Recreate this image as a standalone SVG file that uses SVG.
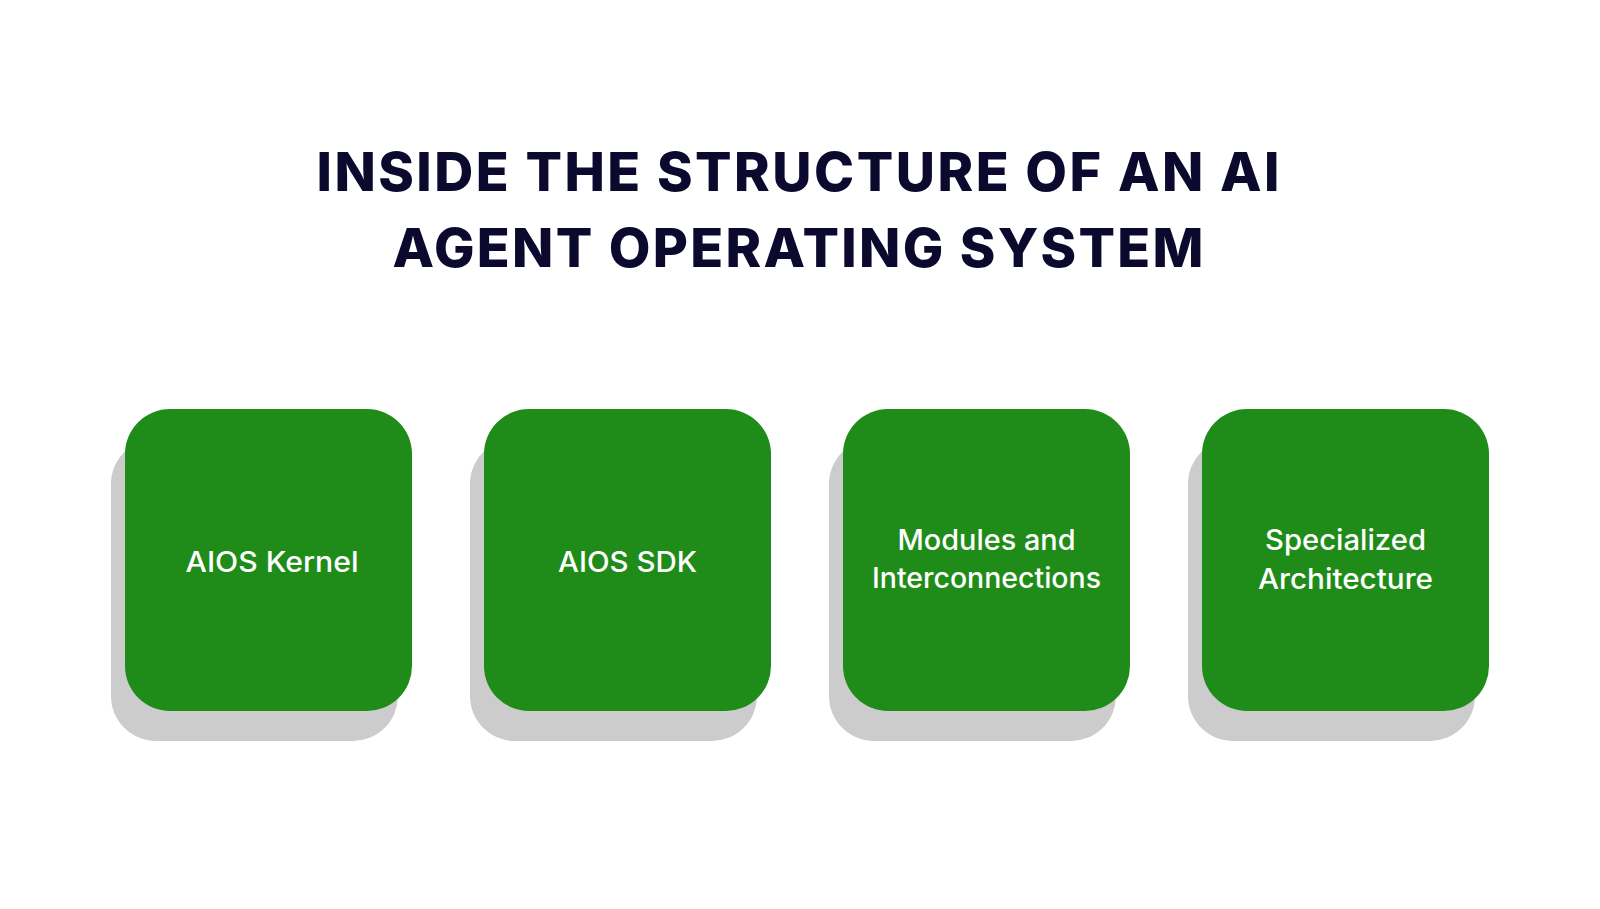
<svg xmlns="http://www.w3.org/2000/svg" width="1600" height="909" viewBox="0 0 1600 909">
<style>
.title{font-family:"Inter","Liberation Sans",sans-serif;font-weight:800;font-size:54px;fill:#0b0a2e;text-anchor:middle}
.lbl{font-family:"Inter","Open Sans","Liberation Sans",sans-serif;font-weight:500;font-size:28px;fill:#ffffff;text-anchor:middle}
.sh{fill:#cccccc}
.bx{fill:#1f8c1a}
</style>
<rect width="1600" height="909" fill="#ffffff"/>
<g id="title">
<text class="title" x="798" y="191" textLength="963" lengthAdjust="spacing">INSIDE THE STRUCTURE OF AN AI</text>
<text class="title" x="798" y="267" textLength="811" lengthAdjust="spacing">AGENT OPERATING SYSTEM</text>
</g>
<g id="node-kernel">
<rect class="sh" x="111" y="439" width="287" height="302" rx="45"/>
<rect class="bx" x="125" y="409" width="287" height="302" rx="45"/>
<text class="lbl" x="272" y="572" textLength="173" lengthAdjust="spacingAndGlyphs">AIOS Kernel</text>
</g>
<g id="node-sdk">
<rect class="sh" x="470" y="439" width="287" height="302" rx="45"/>
<rect class="bx" x="484" y="409" width="287" height="302" rx="45"/>
<text class="lbl" x="627.5" y="572" textLength="139" lengthAdjust="spacingAndGlyphs">AIOS SDK</text>
</g>
<g id="node-modules">
<rect class="sh" x="829" y="439" width="287" height="302" rx="45"/>
<rect class="bx" x="843" y="409" width="287" height="302" rx="45"/>
<text class="lbl" x="986.5" y="550" textLength="178" lengthAdjust="spacingAndGlyphs">Modules and</text>
<text class="lbl" x="986.5" y="588" textLength="229" lengthAdjust="spacingAndGlyphs">Interconnections</text>
</g>
<g id="node-arch">
<rect class="sh" x="1188" y="439" width="287" height="302" rx="45"/>
<rect class="bx" x="1202" y="409" width="287" height="302" rx="45"/>
<text class="lbl" x="1345.5" y="550" textLength="161" lengthAdjust="spacingAndGlyphs">Specialized</text>
<text class="lbl" x="1345.5" y="589" textLength="175" lengthAdjust="spacingAndGlyphs">Architecture</text>
</g>
<g id="connectors"/>
</svg>
